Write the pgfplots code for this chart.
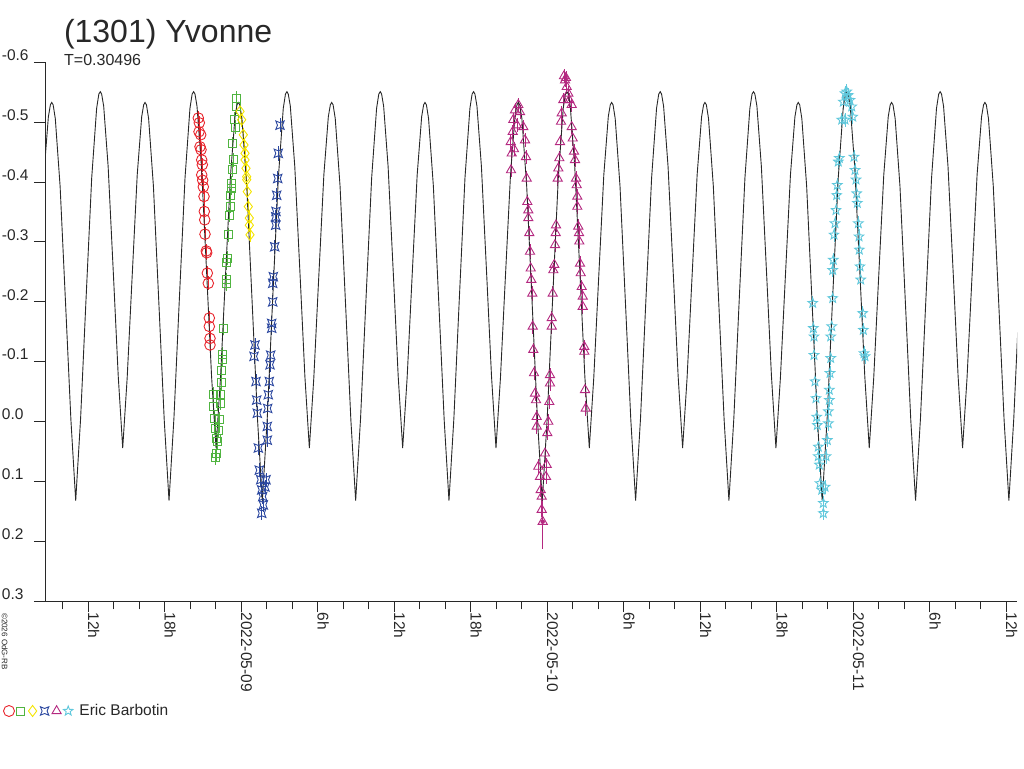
\documentclass[border=0pt]{standalone}
\usepackage{fontspec}
\setmainfont{Liberation Sans}
\usepackage{pgfplots}
\pgfplotsset{compat=1.18}
\usetikzlibrary{plotmarks}
\definecolor{cred}{RGB}{232,36,44}
\definecolor{cgreen}{RGB}{80,180,64}
\definecolor{cyellow}{RGB}{244,228,0}
\definecolor{cblue}{RGB}{44,72,160}
\definecolor{cmag}{RGB}{180,40,128}
\definecolor{ccyan}{RGB}{96,200,220}
\definecolor{axgray}{RGB}{40,40,40}
\newcommand{\smallfont}{\fontsize{15.5}{18}\selectfont}
\pgfdeclareplotmark{sqloz}{%
 \pgfpathmoveto{\pgfqpoint{\pgfplotmarksize}{\pgfplotmarksize}}%
 \pgfpathlineto{\pgfqpoint{0pt}{.6\pgfplotmarksize}}%
 \pgfpathlineto{\pgfqpoint{-\pgfplotmarksize}{\pgfplotmarksize}}%
 \pgfpathlineto{\pgfqpoint{-.6\pgfplotmarksize}{0pt}}%
 \pgfpathlineto{\pgfqpoint{-\pgfplotmarksize}{-\pgfplotmarksize}}%
 \pgfpathlineto{\pgfqpoint{0pt}{-.6\pgfplotmarksize}}%
 \pgfpathlineto{\pgfqpoint{\pgfplotmarksize}{-\pgfplotmarksize}}%
 \pgfpathlineto{\pgfqpoint{.6\pgfplotmarksize}{0pt}}%
 \pgfpathclose\pgfusepathqstroke}
\pgfdeclareplotmark{ostar}{%
 \pgfpathmoveto{\pgfpointpolar{90}{\pgfplotmarksize}}%
 \pgfpathlineto{\pgfpointpolar{126}{.42\pgfplotmarksize}}%
 \pgfpathlineto{\pgfpointpolar{162}{\pgfplotmarksize}}%
 \pgfpathlineto{\pgfpointpolar{198}{.42\pgfplotmarksize}}%
 \pgfpathlineto{\pgfpointpolar{234}{\pgfplotmarksize}}%
 \pgfpathlineto{\pgfpointpolar{270}{.42\pgfplotmarksize}}%
 \pgfpathlineto{\pgfpointpolar{306}{\pgfplotmarksize}}%
 \pgfpathlineto{\pgfpointpolar{342}{.42\pgfplotmarksize}}%
 \pgfpathlineto{\pgfpointpolar{18}{\pgfplotmarksize}}%
 \pgfpathlineto{\pgfpointpolar{54}{.42\pgfplotmarksize}}%
 \pgfpathclose\pgfusepathqstroke}
\begin{document}
\begin{tikzpicture}
\useasboundingbox (0,0) rectangle (1024pt,768pt);
\begin{axis}[
 name=ax,
 at={(45pt,166.7pt)}, anchor=south west,
 scale only axis, width=972pt, height=539pt,
 xmin=-15.373, xmax=60.863, ymin=-0.6, ymax=0.3, y dir=reverse,
 axis line style={draw=none},
 xtick pos=bottom, ytick pos=left,
 tick align=outside,
 major tick length=11pt, minor tick length=8pt,
 tick style={axgray, line width=1pt},
 xtick={-12,-6,0,6,12,18,24,30,36,42,48,54,60},
 xticklabels={12h,18h,2022-05-09,6h,12h,18h,2022-05-10,6h,12h,18h,2022-05-11,6h,12h},
 minor xtick={-14,-10,-8,-4,-2,2,4,8,10,14,16,20,22,26,28,32,34,38,40,44,46,50,52,56,58},
 ytick={-0.6,-0.5,-0.4,-0.3,-0.2,-0.1,0,0.1,0.2,0.3},
 yticklabels={-0.6,-0.5,-0.4,-0.3,-0.2,-0.1,0.0,0.1,0.2,0.3},
 xticklabel style={rotate=-90, anchor=base west, inner sep=0pt, font=\smallfont, text=axgray},
 yticklabel style={anchor=base west, inner sep=0pt, font=\smallfont, text=axgray, xshift=-32.3pt, yshift=1.8pt},
 legend style={draw=none, fill=none, inner sep=0pt, at={(axis description cs:-0.0429,-0.2035)}, anchor=west, font=\smallfont, text=axgray},
 legend cell align=left,
 error bars/error bar style={line width=0.8pt},
]
% red circles
\addplot[cred, only marks, mark=o, mark size=5.3pt, line width=0.9pt, forget plot,
 error bars/.cd, y dir=both, y fixed=0.012, error mark=none] coordinates {
(-3.349,-0.507) (-3.271,-0.499) (-3.294,-0.484) (-3.161,-0.479) (-3.216,-0.459) (-3.137,-0.454)
(-3.082,-0.437) (-3.035,-0.429) (-3.082,-0.412) (-3.004,-0.403) (-2.957,-0.392) (-2.902,-0.376)
(-2.878,-0.351) (-2.847,-0.337) (-2.824,-0.313) (-2.722,-0.285) (-2.690,-0.282) (-2.643,-0.248)
(-2.565,-0.231) (-2.486,-0.173) (-2.486,-0.159) (-2.431,-0.139) (-2.431,-0.128)};
% green squares
\addplot[cgreen, only marks, mark=square, mark size=4pt, line width=0.9pt, forget plot,
 error bars/.cd, y dir=both, y fixed=0.012, error mark=none] coordinates {
(-0.337,-0.540) (-0.392,-0.526) (-0.525,-0.505) (-0.471,-0.492) (-0.651,-0.464) (-0.604,-0.437)
(-0.651,-0.421) (-0.729,-0.398) (-0.784,-0.390) (-0.863,-0.377) (-0.863,-0.360) (-0.918,-0.345)
(-0.996,-0.312) (-1.075,-0.273) (-1.122,-0.265) (-1.176,-0.237) (-1.176,-0.230) (-1.388,-0.156)
(-1.435,-0.113) (-1.435,-0.104) (-1.514,-0.086) (-1.514,-0.065) (-1.592,-0.045) (-2.173,-0.046)
(-1.647,-0.031) (-2.173,-0.025) (-2.094,-0.006) (-1.702,-0.004) (-2.039,0.011) (-1.780,0.014)
(-1.961,0.028) (-1.859,0.033) (-1.961,0.053) (-2.016,0.060)};
% yellow diamonds
\addplot[cyellow, only marks, mark=diamond, mark size=5.5pt, line width=0.9pt, forget plot,
 error bars/.cd, y dir=both, y fixed=0.012, error mark=none] coordinates {
(-0.078,-0.518) (0.055,-0.504) (0.180,-0.479) (0.235,-0.462) (0.314,-0.448) (0.314,-0.437)
(0.392,-0.423) (0.447,-0.409) (0.447,-0.404) (0.494,-0.384) (0.573,-0.359) (0.651,-0.340)
(0.651,-0.328) (0.706,-0.312)};
% blue
\addplot[cblue, only marks, mark=sqloz, mark size=4.2pt, line width=0.9pt, forget plot,
 error bars/.cd, y dir=both, y fixed=0.012, error mark=none] coordinates {
(3.059,-0.495) (2.925,-0.448) (2.878,-0.406) (2.800,-0.378) (2.745,-0.351) (2.722,-0.342)
(2.722,-0.328) (2.643,-0.292) (2.533,-0.242) (2.486,-0.231) (2.486,-0.200) (2.408,-0.164)
(2.408,-0.156) (2.329,-0.111) (2.275,-0.095) (2.220,-0.067) (2.141,-0.045) (2.094,-0.022)
(2.063,0.008) (2.063,0.031) (1.961,0.097) (1.882,0.109) (1.098,-0.128) (1.020,-0.109)
(1.176,-0.067) (1.231,-0.036) (1.278,-0.014) (1.357,0.044) (1.435,0.081) (1.545,0.097)
(1.624,0.114) (1.702,0.125) (1.749,0.139) (1.624,0.153)};
% magenta triangles
\addplot[cmag, only marks, mark=triangle, mark size=5.3pt, line width=0.9pt, forget plot,
 error bars/.cd, y dir=both, y fixed=0.012, error mark=none] coordinates {
(21.749,-0.529) (21.490,-0.520) (21.882,-0.517) (21.357,-0.504) (21.647,-0.495) (21.310,-0.484)
(21.153,-0.467) (21.412,-0.455) (21.231,-0.448) (21.176,-0.420) (22.141,-0.492) (22.275,-0.470)
(22.353,-0.442) (22.408,-0.406) (22.455,-0.367) (22.533,-0.353) (22.533,-0.340) (22.612,-0.315)
(22.667,-0.284) (22.722,-0.256) (22.769,-0.237) (22.847,-0.214) (22.878,-0.159) (22.925,-0.120)
(22.980,-0.081) (23.059,-0.047) (23.137,-0.036) (23.192,-0.008) (23.192,0.008) (23.318,0.075)
(23.451,0.092) (23.506,0.114) (23.584,0.125) (23.584,0.147) (23.663,0.167)
(23.843,0.053) (23.976,0.072) (23.922,0.092) (24.024,0.019) (24.102,0.000) (24.180,-0.033)
(24.235,-0.064) (24.235,-0.078) (24.369,-0.159) (24.369,-0.173) (24.447,-0.214) (24.494,-0.253)
(24.573,-0.262) (24.627,-0.295) (24.682,-0.315) (24.706,-0.328) (24.839,-0.406) (24.886,-0.423)
(24.965,-0.440) (25.020,-0.467) (25.098,-0.501) (25.153,-0.515) (25.278,-0.537) (25.412,-0.570)
(25.333,-0.577) (25.490,-0.574) (25.545,-0.559) (25.671,-0.548) (25.749,-0.537)
(25.937,-0.529) (25.937,-0.492) (26.016,-0.473) (26.118,-0.451) (26.196,-0.437) (26.275,-0.406)
(26.329,-0.395) (26.376,-0.376) (26.376,-0.359) (26.455,-0.326) (26.510,-0.315) (26.533,-0.301)
(26.588,-0.264) (26.643,-0.248) (26.722,-0.225) (26.800,-0.209) (26.800,-0.192) (26.925,-0.125)
(26.925,-0.117) (26.980,-0.053) (27.035,-0.022)};
\addplot[cmag, only marks, mark=none, forget plot,
 error bars/.cd, y dir=both, y explicit, error mark=none] coordinates {
(23.663,0.167) +- (0,0.045)};
% cyan stars
\addplot[ccyan, only marks, mark=ostar, mark size=5pt, line width=0.9pt, forget plot,
 error bars/.cd, y dir=both, y fixed=0.012, error mark=none] coordinates {
(44.839,-0.198) (44.886,-0.156) (44.941,-0.142) (44.941,-0.111) (45.020,-0.067) (45.098,-0.039)
(45.153,-0.008) (45.200,0.006) (45.278,0.042) (45.278,0.058) (45.357,0.072) (45.412,0.103)
(45.545,0.114) (45.671,0.136) (45.671,0.153) (45.804,0.109) (45.882,0.058) (45.984,0.031)
(46.063,0.003) (46.063,-0.017) (46.141,-0.036) (46.141,-0.053) (46.196,-0.081) (46.251,-0.106)
(46.251,-0.142) (46.329,-0.159) (46.408,-0.206) (46.408,-0.253) (46.455,-0.270) (46.510,-0.312)
(46.588,-0.331) (46.667,-0.353) (46.722,-0.378) (46.769,-0.395) (46.847,-0.434) (46.925,-0.440)
(47.114,-0.504) (47.239,-0.534) (47.373,-0.548) (47.506,-0.551) (47.631,-0.545) (47.765,-0.537)
(47.898,-0.526) (47.976,-0.509) (47.373,-0.504) (48.078,-0.442) (48.157,-0.420) (48.235,-0.404)
(48.290,-0.381) (48.337,-0.365) (48.416,-0.331) (48.471,-0.309) (48.494,-0.287) (48.549,-0.259)
(48.604,-0.237) (48.761,-0.181) (48.808,-0.153) (48.863,-0.114) (48.941,-0.109)};
% fitted curve
\addplot[axgray, line width=0.9pt, forget plot] coordinates {
(-15.897,-0.225) (-15.459,-0.412) (-15.109,-0.509) (-14.952,-0.529)
(-14.847,-0.533) (-14.734,-0.529) (-14.565,-0.506) (-14.188,-0.393) (-13.718,-0.178) (-13.341,-0.003) (-12.965,0.132) (-12.579,-0.006) (-12.193,-0.187) (-11.710,-0.407) (-11.324,-0.523) (-11.151,-0.547) (-11.035,-0.551) (-10.930,-0.547) (-10.771,-0.527) (-10.420,-0.426) (-9.981,-0.234) (-9.629,-0.076) (-9.278,0.044) (-8.928,-0.073) (-8.578,-0.225) (-8.140,-0.412) (-7.790,-0.509) (-7.633,-0.529)
(-7.528,-0.533) (-7.415,-0.529) (-7.246,-0.506) (-6.869,-0.393) (-6.399,-0.178) (-6.022,-0.003) (-5.646,0.132) (-5.260,-0.006) (-4.874,-0.187) (-4.391,-0.407) (-4.005,-0.523) (-3.832,-0.547) (-3.716,-0.551) (-3.611,-0.547) (-3.452,-0.527) (-3.101,-0.426) (-2.662,-0.234) (-2.310,-0.076) (-1.959,0.044) (-1.609,-0.073) (-1.259,-0.225) (-0.821,-0.412) (-0.471,-0.509) (-0.314,-0.529)
(-0.209,-0.533) (-0.096,-0.529) (0.073,-0.506) (0.450,-0.393) (0.920,-0.178) (1.297,-0.003) (1.673,0.132) (2.059,-0.006) (2.445,-0.187) (2.928,-0.407) (3.314,-0.523) (3.487,-0.547) (3.603,-0.551) (3.708,-0.547) (3.867,-0.527) (4.218,-0.426) (4.657,-0.234) (5.009,-0.076) (5.360,0.044) (5.710,-0.073) (6.060,-0.225) (6.498,-0.412) (6.848,-0.509) (7.005,-0.529)
(7.110,-0.533) (7.223,-0.529) (7.392,-0.506) (7.769,-0.393) (8.239,-0.178) (8.616,-0.003) (8.992,0.132) (9.378,-0.006) (9.764,-0.187) (10.247,-0.407) (10.633,-0.523) (10.806,-0.547) (10.922,-0.551) (11.027,-0.547) (11.186,-0.527) (11.537,-0.426) (11.976,-0.234) (12.328,-0.076) (12.679,0.044) (13.029,-0.073) (13.379,-0.225) (13.817,-0.412) (14.167,-0.509) (14.324,-0.529)
(14.429,-0.533) (14.542,-0.529) (14.711,-0.506) (15.088,-0.393) (15.558,-0.178) (15.935,-0.003) (16.311,0.132) (16.697,-0.006) (17.083,-0.187) (17.566,-0.407) (17.952,-0.523) (18.125,-0.547) (18.241,-0.551) (18.346,-0.547) (18.505,-0.527) (18.856,-0.426) (19.295,-0.234) (19.647,-0.076) (19.998,0.044) (20.348,-0.073) (20.698,-0.225) (21.136,-0.412) (21.486,-0.509) (21.643,-0.529)
(21.748,-0.533) (21.861,-0.529) (22.030,-0.506) (22.407,-0.393) (22.877,-0.178) (23.254,-0.003) (23.630,0.132) (24.016,-0.006) (24.402,-0.187) (24.885,-0.407) (25.271,-0.523) (25.444,-0.547) (25.560,-0.551) (25.665,-0.547) (25.824,-0.527) (26.175,-0.426) (26.614,-0.234) (26.966,-0.076) (27.317,0.044) (27.667,-0.073) (28.017,-0.225) (28.455,-0.412) (28.805,-0.509) (28.962,-0.529)
(29.067,-0.533) (29.180,-0.529) (29.349,-0.506) (29.726,-0.393) (30.196,-0.178) (30.573,-0.003) (30.949,0.132) (31.335,-0.006) (31.721,-0.187) (32.204,-0.407) (32.590,-0.523) (32.763,-0.547) (32.879,-0.551) (32.984,-0.547) (33.143,-0.527) (33.494,-0.426) (33.933,-0.234) (34.285,-0.076) (34.636,0.044) (34.986,-0.073) (35.336,-0.225) (35.774,-0.412) (36.124,-0.509) (36.281,-0.529)
(36.386,-0.533) (36.499,-0.529) (36.668,-0.506) (37.045,-0.393) (37.515,-0.178) (37.892,-0.003) (38.268,0.132) (38.654,-0.006) (39.040,-0.187) (39.523,-0.407) (39.909,-0.523) (40.082,-0.547) (40.198,-0.551) (40.303,-0.547) (40.462,-0.527) (40.813,-0.426) (41.252,-0.234) (41.604,-0.076) (41.955,0.044) (42.305,-0.073) (42.655,-0.225) (43.093,-0.412) (43.443,-0.509) (43.600,-0.529)
(43.705,-0.533) (43.818,-0.529) (43.987,-0.506) (44.364,-0.393) (44.834,-0.178) (45.211,-0.003) (45.587,0.132) (45.973,-0.006) (46.359,-0.187) (46.842,-0.407) (47.228,-0.523) (47.401,-0.547) (47.517,-0.551) (47.622,-0.547) (47.781,-0.527) (48.132,-0.426) (48.571,-0.234) (48.923,-0.076) (49.274,0.044) (49.624,-0.073) (49.974,-0.225) (50.412,-0.412) (50.762,-0.509) (50.919,-0.529)
(51.024,-0.533) (51.137,-0.529) (51.306,-0.506) (51.683,-0.393) (52.153,-0.178) (52.530,-0.003) (52.906,0.132) (53.292,-0.006) (53.678,-0.187) (54.161,-0.407) (54.547,-0.523) (54.720,-0.547) (54.836,-0.551) (54.941,-0.547) (55.100,-0.527) (55.451,-0.426) (55.890,-0.234) (56.242,-0.076) (56.593,0.044) (56.943,-0.073) (57.293,-0.225) (57.731,-0.412) (58.081,-0.509) (58.238,-0.529)
(58.343,-0.533) (58.456,-0.529) (58.625,-0.506) (59.002,-0.393) (59.472,-0.178) (59.849,-0.003) (60.225,0.132) (60.611,-0.006) (60.997,-0.187)};
\addlegendimage{legend image code/.code={%
 \draw[cred, line width=0.9pt] plot[mark=o, mark size=5.5pt] coordinates {(0pt,0pt)};
 \draw[cgreen, line width=0.9pt] plot[mark=square, mark size=4pt] coordinates {(11.8pt,0pt)};
 \draw[cyellow, line width=0.9pt] plot[mark=diamond, mark size=5.5pt] coordinates {(23.6pt,0pt)};
 \draw[cblue, line width=0.9pt] plot[mark=sqloz, mark size=4.2pt] coordinates {(35.6pt,0pt)};
 \draw[cmag, line width=0.9pt] plot[mark=triangle, mark size=5.3pt] coordinates {(47.6pt,0pt)};
 \draw[ccyan, line width=0.9pt] plot[mark=ostar, mark size=5pt] coordinates {(59.2pt,0pt)};
}}
\addlegendentry{\hspace{4.5pt}Eric Barbotin}
\end{axis}
\draw[axgray, line width=1pt] ([xshift=-10pt]ax.south west) -- (ax.south east);
\draw[axgray, line width=1pt] (ax.south west) -- (ax.north west);
\node[anchor=base west, inner sep=0pt, font=\fontsize{32}{37}\selectfont, text=axgray] at (63.8pt,725.7pt) {(1301) Yvonne};
\node[anchor=base west, inner sep=0pt, font=\fontsize{16}{19}\selectfont, text=axgray] at (64pt,702.3pt) {T=0.30496};
\node[rotate=-90, anchor=base west, inner sep=0pt, font=\fontsize{8}{9}\selectfont, text=axgray] at (2pt,155pt) {©2026 OdG-RB};
\end{tikzpicture}
\end{document}
